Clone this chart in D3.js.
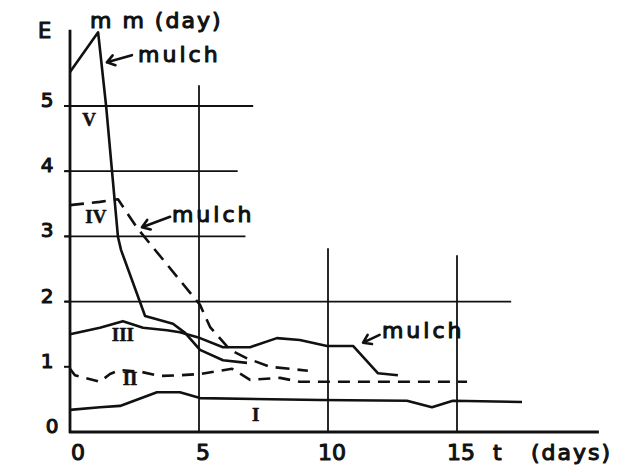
<!DOCTYPE html>
<html>
<head>
  <meta charset="utf-8">
  <title></title>
  <script src="https://cdn.jsdelivr.net/npm/d3@7"></script>
</head>
<style>
  body { margin: 0; background: #fff; }
  svg text { font-family: "DejaVu Sans", sans-serif; fill: #111; stroke: #111; stroke-width: 1.1px; stroke-linejoin: round; }
  svg text.roman { font-family: "Liberation Serif", serif; font-weight: bold; stroke-width: 0.5px; }
</style>
<body>
  <svg id="chart" width="621" height="470"></svg>
  <script>
    // evaporation E (mm/day) against time t (days)
    var daysV = [0, 1.09, 1.40, 1.86, 1.98, 2.91, 3.99, 4.46, 5.04, 5.93, 6.86];
    var evapV = [5.52, 6.13, 5.00, 2.99, 2.79, 1.78, 1.66, 1.52, 1.26, 1.10, 1.06];

    var daysIV = [0, 1.16, 1.86, 2.60, 5.04, 5.43, 6.20, 6.86, 7.75, 9.22];
    var evapIV = [3.48, 3.53, 3.57, 3.13, 1.95, 1.61, 1.26, 1.13, 1.00, 0.94];

    var daysIII = [0, 1.16, 2.05, 2.83, 3.76, 4.26, 5.04, 5.93, 6.98, 8.02, 8.91, 9.96, 10.97, 11.94, 12.71];
    var evapIII = [1.50, 1.60, 1.70, 1.60, 1.56, 1.53, 1.44, 1.30, 1.30, 1.44, 1.41, 1.32, 1.32, 0.90, 0.87];

    var daysII = [0, 0.19, 1.16, 1.55, 1.94, 2.79, 3.49, 4.26, 5.04, 6.28, 6.98, 8.14, 8.91, 10.35, 15.39];
    var evapII = [0.97, 0.87, 0.77, 0.89, 0.95, 0.92, 0.86, 0.87, 0.89, 0.97, 0.80, 0.83, 0.77, 0.77, 0.77];

    var daysI = [0, 1.16, 1.94, 3.37, 4.26, 5.04, 9.69, 13.06, 14.03, 14.84, 17.52];
    var evapI = [0.34, 0.38, 0.40, 0.61, 0.61, 0.52, 0.49, 0.48, 0.38, 0.48, 0.46];

    var xTicks = [0, 5, 10, 15];
    var yTicks = [0, 1, 2, 3, 4, 5];

    // hand drawn grid: each line stops at its own length
    var hGrid = [[2, 17.1], [3, 6.8], [4, 6.5], [5, 7.1]];
    var vGrid = [[5, 5.32], [10, 2.82], [15, 2.71]];

    var svg = d3.select('#chart');
    var x = d3.scaleLinear().domain([0, 15]).range([70, 457]);
    var y = d3.scaleLinear().domain([0, 5]).range([432, 106]);

    var ink = '#111';

    // grid
    svg.selectAll('.hgrid').data(hGrid).enter().append('line')
      .attr('x1', x(0) - 5).attr('x2', function (d) { return x(d[1]); })
      .attr('y1', function (d) { return y(d[0]); }).attr('y2', function (d) { return y(d[0]); })
      .attr('stroke', ink).attr('stroke-width', 1.8);
    svg.selectAll('.vgrid').data(vGrid).enter().append('line')
      .attr('x1', function (d) { return x(d[0]); }).attr('x2', function (d) { return x(d[0]); })
      .attr('y1', y(0)).attr('y2', function (d) { return y(d[1]); })
      .attr('stroke', ink).attr('stroke-width', 1.8);

    // axes
    svg.append('line').attr('x1', x(0)).attr('x2', x(0)).attr('y1', y(0) + 1).attr('y2', y(6.17))
      .attr('stroke', ink).attr('stroke-width', 2.8);
    svg.append('line').attr('x1', x(0) - 1).attr('x2', x(20.5)).attr('y1', y(0)).attr('y2', y(0))
      .attr('stroke', ink).attr('stroke-width', 2.8);
    svg.selectAll('.ytick').data(yTicks.slice(1)).enter().append('line')
      .attr('x1', x(0) - 6).attr('x2', x(0))
      .attr('y1', function (d) { return y(d); }).attr('y2', function (d) { return y(d); })
      .attr('stroke', ink).attr('stroke-width', 2);

    svg.selectAll('.ylab').data(yTicks).enter().append('text')
      .attr('x', function (d) { return d === 0 ? 52 : 47; })
      .attr('y', function (d) { return y(d) + 1; })
      .attr('text-anchor', 'middle').attr('font-size', 20)
      .text(function (d) { return d; });
    svg.selectAll('.xlab').data(xTicks).enter().append('text')
      .attr('x', function (d) { return x(d) + (d === 0 ? 8 : 4); })
      .attr('y', 460)
      .attr('text-anchor', 'middle').attr('font-size', 22)
      .text(function (d) { return d; });
    svg.append('text').attr('x', 493).attr('y', 460).attr('font-size', 22).text('t');
    svg.append('text').attr('x', 531).attr('y', 460).attr('font-size', 22)
      .attr('letter-spacing', 2).text('(days)');
    svg.append('text').attr('x', 38).attr('y', 38).attr('font-size', 21).text('E');
    svg.append('text').attr('x', 90).attr('y', 28).attr('font-size', 22)
      .attr('letter-spacing', 2).text('m m (day)');

    // series
    var series = [
      { t: daysV, e: evapV, dash: null },
      { t: daysIV, e: evapIV, dash: '14,8' },
      { t: daysIII, e: evapIII, dash: null },
      { t: daysII, e: evapII, dash: '12,8' },
      { t: daysI, e: evapI, dash: null }
    ];
    var line = d3.line().x(function (d) { return x(d[0]); }).y(function (d) { return y(d[1]); });
    series.forEach(function (s) {
      svg.append('path')
        .attr('d', line(d3.zip(s.t, s.e)))
        .attr('fill', 'none').attr('stroke', ink).attr('stroke-width', 2.6)
        .attr('stroke-linejoin', 'round')
        .attr('stroke-dasharray', s.dash);
    });

    // roman labels
    var romans = [['V', 0.74, 4.69], ['IV', 1.0, 3.2], ['III', 2.05, 1.40], ['II', 2.33, 0.72], ['I', 7.2, 0.17]];
    svg.selectAll('.roman').data(romans).enter().append('text')
      .attr('class', 'roman')
      .attr('x', function (d) { return x(d[1]); }).attr('y', function (d) { return y(d[2]); })
      .attr('text-anchor', 'middle').attr('font-size', 19)
      .text(function (d) { return d[0]; });

    // "mulch" notes: arrow tip, arrow tail, text start
    var notes = [
      [[1.43, 5.67], [2.40, 5.78], [2.64, 5.67]],
      [[2.79, 3.14], [3.88, 3.30], [3.95, 3.22]],
      [[11.36, 1.37], [12.00, 1.49], [12.09, 1.44]]
    ];
    notes.forEach(function (n) {
      var tx = x(n[0][0]), ty = y(n[0][1]), bx = x(n[1][0]), by = y(n[1][1]);
      var a = Math.atan2(by - ty, bx - tx), h = 9;
      svg.append('path')
        .attr('d', 'M' + bx + ',' + by + 'L' + tx + ',' + ty +
          'M' + (tx + h * Math.cos(a - 0.6)) + ',' + (ty + h * Math.sin(a - 0.6)) +
          'L' + tx + ',' + ty +
          'L' + (tx + h * Math.cos(a + 0.6)) + ',' + (ty + h * Math.sin(a + 0.6)))
        .attr('fill', 'none').attr('stroke', ink).attr('stroke-width', 2.6)
        .attr('stroke-linecap', 'round').attr('stroke-linejoin', 'round');
      svg.append('text').attr('x', x(n[2][0])).attr('y', y(n[2][1]))
        .attr('font-size', 22).attr('letter-spacing', 3).text('mulch');
    });
  </script>
</body>
</html>
